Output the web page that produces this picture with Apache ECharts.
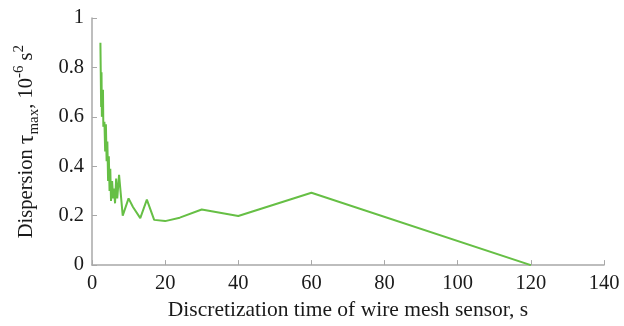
<!DOCTYPE html>
<html>
<head>
<meta charset="utf-8">
<script src="https://cdn.jsdelivr.net/npm/echarts@6/dist/echarts.min.js"></script>
<style>
  html, body { margin: 0; padding: 0; background: #fff; }
  #chart { width: 624px; height: 326px; }
</style>
</head>
<body>
<div id="chart"></div>
<script>
  // discretization time, s
  var times = [2.3, 2.5, 2.6, 2.7, 3.0, 3.1, 3.4, 3.6, 3.8, 4.0, 4.2, 4.4, 4.6, 4.8, 5.0, 5.2,
               5.5, 5.8, 6.0, 6.3, 6.6, 6.9, 7.4, 8.4, 10, 11.2, 13.2, 15, 17, 20, 24, 30, 40, 60, 120];
  // dispersion tau_max, 10^-6 s^2
  var dispersion = [0.90, 0.64, 0.78, 0.60, 0.71, 0.56, 0.58, 0.46, 0.57, 0.42, 0.50, 0.34, 0.44, 0.30, 0.39, 0.26,
                    0.34, 0.27, 0.31, 0.25, 0.35, 0.27, 0.365, 0.20, 0.27, 0.235, 0.19, 0.265, 0.183, 0.178, 0.192, 0.225, 0.199, 0.293, 0];

  var xTicks = { min: 0, max: 140, interval: 20 };
  var yTicks = { min: 0, max: 1, interval: 0.2 };

  var seriesData = times.map(function (t, i) { return [t, dispersion[i]]; });

  var font = 'Liberation Serif';
  var axisColor = '#a8a8a8';

  var option = {
    animation: false,
    textStyle: { fontFamily: font, color: '#1a1a1a' },
    grid: { left: 92, right: 20, top: 18, bottom: 53 },
    xAxis: {
      type: 'value',
      min: xTicks.min, max: xTicks.max, interval: xTicks.interval,
      name: 'Discretization time of wire mesh sensor, s',
      nameLocation: 'middle',
      nameGap: 31,
      nameTextStyle: { fontFamily: font, fontSize: 21.5, color: '#1a1a1a' },
      axisLine: { lineStyle: { color: axisColor, width: 1.5 } },
      axisTick: { inside: true, length: 5, lineStyle: { color: axisColor } },
      axisLabel: { fontFamily: font, fontSize: 20.5, color: '#1a1a1a', margin: 8 },
      splitLine: { show: false }
    },
    yAxis: {
      type: 'value',
      min: yTicks.min, max: yTicks.max, interval: yTicks.interval,
      name: '{n|Dispersion }{t|τ}{sub|max}{n|, 10}{sup|-6}{n| s}{sup|2}',
      nameLocation: 'middle',
      nameGap: 50,
      nameTextStyle: {
        fontFamily: font, fontSize: 20, color: '#1a1a1a',
        rich: {
          n: { fontFamily: font, fontSize: 20.5, lineHeight: 30, color: '#1a1a1a' },
          t: { fontFamily: font, fontSize: 24, lineHeight: 30, color: '#1a1a1a' },
          sub: { fontFamily: font, fontSize: 15, lineHeight: 30, color: '#1a1a1a', verticalAlign: 'bottom', padding: [10, 0, 0, 0] },
          sup: { fontFamily: font, fontSize: 15, lineHeight: 30, color: '#1a1a1a', verticalAlign: 'top', padding: [0, 0, 10, 0] }
        }
      },
      axisLine: { show: true, lineStyle: { color: axisColor, width: 1.5 } },
      axisTick: { show: true, inside: true, length: 5, lineStyle: { color: axisColor } },
      axisLabel: {
        fontFamily: font, fontSize: 20.5, color: '#1a1a1a', margin: 8,
        formatter: function (v) { return String(Math.round(v * 10) / 10); }
      },
      splitLine: { show: false }
    },
    series: [{
      type: 'line',
      data: seriesData,
      showSymbol: false,
      symbol: 'none',
      lineStyle: { color: '#66bf45', width: 2 },
      itemStyle: { color: '#66bf45' }
    }]
  };

  var myChart = echarts.init(document.getElementById('chart'));
  myChart.setOption(option);
</script>
</body>
</html>
